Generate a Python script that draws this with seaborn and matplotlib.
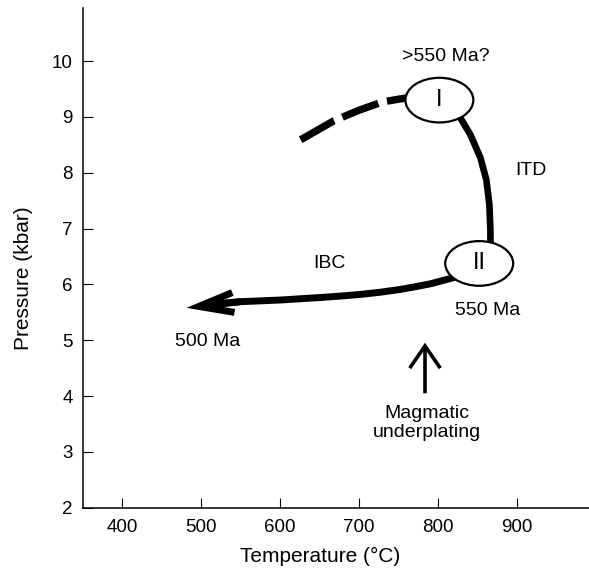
import matplotlib
matplotlib.use("Agg")
import matplotlib.pyplot as plt
from matplotlib.patches import Ellipse
import pandas as pd
import seaborn as sns

# ---------------- data ----------------
x_ticks = [400, 500, 600, 700, 800, 900]
y_ticks = [2, 3, 4, 5, 6, 7, 8, 9, 10]

# prograde (uncertain) path, dashed
dash_T = [626, 668, 700, 730, 760, 795]
dash_P = [8.59, 8.93, 9.12, 9.27, 9.34, 9.32]

# ITD segment (stage I -> stage II)
itd_T = [815.6, 828.2, 840.9, 853.5, 861.1, 864.9, 866.2, 866.2]
itd_P = [9.13, 8.98, 8.68, 8.27, 7.87, 7.43, 6.98, 6.45]

# IBC segment (stage II -> 500 Ma), ending in an arrow
ibc_T = [845, 819.4, 790.2, 770, 752.3, 727, 701.6, 676, 651, 600.4, 549.7, 518]
ibc_P = [6.30, 6.12, 6.01, 5.955, 5.91, 5.86, 5.82, 5.79, 5.765, 5.72, 5.69, 5.65]
ibc_tip_T = 481.4
ibc_tip_P = 5.58

# stage ellipses
stage_labels = ["I", "II"]
stage_T = [801.6, 852.0]
stage_P = [9.30, 6.375]

# text annotations
ann_texts = [">550 Ma?", "ITD", "IBC", "550 Ma", "500 Ma", "Magmatic\nunderplating"]
ann_T = [810, 917.6, 663, 863, 508.7, 785.3]
ann_P = [10.09, 8.04, 6.38, 5.54, 4.98, 3.52]

# magmatic underplating arrow
mag_T = 783.4
mag_P_from = 4.05
mag_P_to = 4.955

# ---------------- figure ----------------
sns.set_style("ticks")
plt.rcParams["font.family"] = ["Liberation Sans", "DejaVu Sans"]
plt.rcParams["lines.scale_dashes"] = False
for k in ("text.color", "axes.labelcolor", "xtick.color", "ytick.color",
          "axes.edgecolor"):
    plt.rcParams[k] = "black"

fig = plt.figure(figsize=(5.89, 5.72), dpi=100)
ax = fig.add_axes([0.1416, 0.1124, 0.8584, 0.8736])

dash_df = pd.DataFrame({"T": dash_T, "P": dash_P})
itd_df = pd.DataFrame({"T": itd_T, "P": itd_P})
ibc_df = pd.DataFrame({"T": ibc_T, "P": ibc_P})

sns.lineplot(data=dash_df, x="T", y="P", sort=False, estimator=None, ax=ax,
             color="black", linewidth=5.3, linestyle=(0, (27.7, 6.5)),
             dash_capstyle="butt", zorder=2)
sns.lineplot(data=itd_df, x="T", y="P", sort=False, estimator=None, ax=ax,
             color="black", linewidth=4.8, solid_capstyle="butt",
             solid_joinstyle="round", zorder=2)
sns.lineplot(data=ibc_df, x="T", y="P", sort=False, estimator=None, ax=ax,
             color="black", linewidth=5.0, solid_capstyle="butt",
             solid_joinstyle="round", zorder=2)

ax.annotate("", xy=(ibc_tip_T, ibc_tip_P), xytext=(ibc_T[-2], ibc_P[-2]),
            arrowprops=dict(arrowstyle="->,head_length=2.5,head_width=0.72",
                            lw=5.0, color="black", shrinkA=0, shrinkB=0,
                            joinstyle="miter", capstyle="butt"), zorder=2)

ax.annotate("", xy=(mag_T, mag_P_to), xytext=(mag_T, mag_P_from),
            arrowprops=dict(arrowstyle="->,head_length=1.6,head_width=1.1",
                            lw=2.6, color="black", shrinkA=0, shrinkB=0,
                            joinstyle="miter", capstyle="butt"), zorder=2)

for lab, t, p in zip(stage_labels, stage_T, stage_P):
    ax.add_patch(Ellipse((t, p), width=86, height=0.80, facecolor="white",
                         edgecolor="black", linewidth=1.6, zorder=3))
    ax.text(t, p, lab, ha="center", va="center", fontsize=17, zorder=4)

for txt, t, p in zip(ann_texts, ann_T, ann_P):
    ax.text(t, p, txt, ha="center", va="center", fontsize=14,
            linespacing=1.2, zorder=4)

ax.set_xlim(351, 991)
ax.set_ylim(2, 10.95)
ax.set_xticks(x_ticks)
ax.set_yticks(y_ticks)
ax.tick_params(direction="in", length=7, width=0.8, labelsize=13.5, color="black")
ax.tick_params(axis="x", pad=8)
ax.tick_params(axis="y", pad=7.5)
sns.despine(ax=ax)
for s in ("left", "bottom"):
    ax.spines[s].set_linewidth(1.1)
    ax.spines[s].set_color("black")

ax.set_xlabel("Temperature (°C)", fontsize=15)
ax.set_ylabel("Pressure (kbar)", fontsize=15)
ax.xaxis.set_label_coords(0.468, -0.078)
ax.yaxis.set_label_coords(-0.10, 0.46)

fig.savefig("out.png", dpi=100)
